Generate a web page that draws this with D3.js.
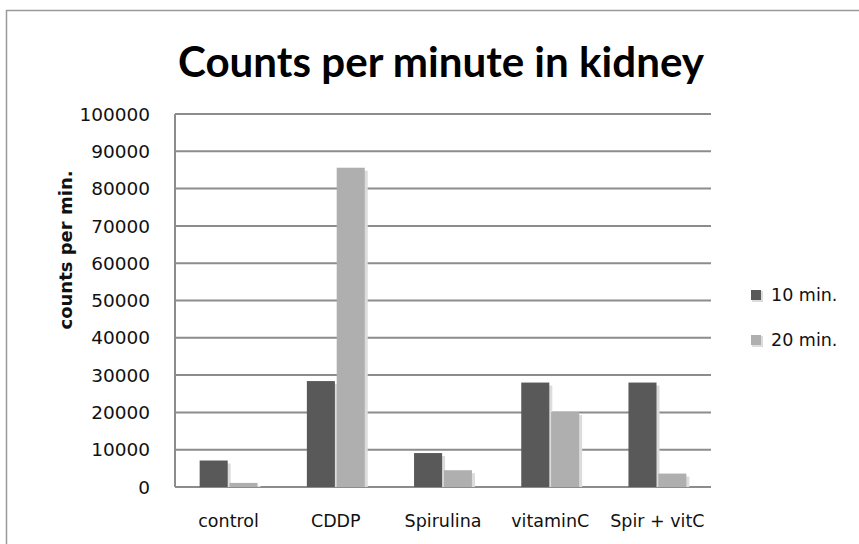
<!DOCTYPE html>
<html><head><meta charset="utf-8">
<script src="https://cdn.jsdelivr.net/npm/d3@7"></script>
<style>html,body{margin:0;padding:0;background:#fff;}svg{display:block;}</style>
</head><body>
<svg id="chart" width="859" height="544"></svg>
<script>
const categories = ["control", "CDDP", "Spirulina", "vitaminC", "Spir + vitC"];
const seriesNames = ["10 min.", "20 min."];
const values10 = [7100, 28400, 9100, 28000, 28000];
const values20 = [1100, 85600, 4500, 20100, 3600];
const yTicks = [0, 10000, 20000, 30000, 40000, 50000, 60000, 70000, 80000, 90000, 100000];
const titleText = "Counts per minute in kidney";
const yTitle = "counts per min.";
const colors = ["#595959", "#afafaf"];

const svg = d3.select("#chart");
const plot = {left: 175, right: 711, top: 114, bottom: 487};

// outer frame
svg.append("rect").attr("x", 6.5).attr("y", 10.5).attr("width", 900).attr("height", 600)
  .attr("fill", "none").attr("stroke", "#9a9a9a").attr("stroke-width", 1.5);

const x = d3.scaleBand().domain(categories).range([plot.left, plot.right]).paddingInner(0.46).paddingOuter(0.23);
const xs = d3.scaleBand().domain(seriesNames).range([0, x.bandwidth()]).paddingInner(0.06);
const y = d3.scaleLinear().domain([0, 100000]).range([plot.bottom, plot.top]);

// gridlines
svg.append("g").selectAll("line").data(yTicks).join("line")
  .attr("x1", plot.left).attr("x2", plot.right)
  .attr("y1", d => y(d)).attr("y2", d => y(d))
  .attr("stroke", "#8c8c8c").attr("stroke-width", 2);
svg.append("line").attr("x1", plot.left).attr("x2", plot.left).attr("y1", plot.top).attr("y2", plot.bottom)
  .attr("stroke", "#8c8c8c").attr("stroke-width", 2);

// y tick labels
svg.append("g").selectAll("text").data(yTicks).join("text")
  .attr("x", 150).attr("y", d => y(d)).attr("dy", "0.36em")
  .attr("text-anchor", "end").attr("font-family", "DejaVu Sans").attr("font-size", 18.5)
  .attr("fill", "#111").text(d => d);

const data = categories.map((c, i) => ({c, vals: [values10[i], values20[i]]}));
const groups = svg.append("g").selectAll("g").data(data).join("g")
  .attr("transform", d => `translate(${x(d.c)},0)`);
const barData = d => d.vals.map((v, j) => ({s: seriesNames[j], v, j}));
// shadows
groups.selectAll("rect.sh").data(barData).join("rect").attr("class", "sh")
  .attr("x", d => xs(d.s) + xs.bandwidth() - 1).attr("width", 4)
  .attr("y", d => y(d.v) + 3).attr("height", d => y(0) - y(d.v) - 3)
  .attr("fill", "#dcdcdc");
groups.selectAll("rect.bar").data(barData).join("rect").attr("class", "bar")
  .attr("x", d => xs(d.s)).attr("width", xs.bandwidth())
  .attr("y", d => y(d.v)).attr("height", d => y(0) - y(d.v))
  .attr("fill", d => colors[d.j]);

// x labels
svg.append("g").selectAll("text").data(categories).join("text")
  .attr("x", d => x(d) + x.bandwidth() / 2).attr("y", 527)
  .attr("text-anchor", "middle").attr("font-family", "DejaVu Sans").attr("font-size", 17.5)
  .attr("fill", "#111").text(d => d);

// title
const t = svg.append("text").attr("x", 441).attr("y", 77).attr("text-anchor", "middle")
  .attr("font-family", "Lato").attr("font-weight", "bold").attr("font-size", 38)
  .attr("fill", "#000").text(titleText);
const tl = t.node().getComputedTextLength();
t.attr("font-size", 38 * 526 / tl);

// y title
svg.append("text").attr("transform", "translate(72,250) rotate(-90)")
  .attr("text-anchor", "middle").attr("font-family", "DejaVu Sans").attr("font-weight", "bold")
  .attr("font-size", 18).attr("fill", "#111").text(yTitle);

// legend
const leg = svg.append("g").selectAll("g").data(seriesNames).join("g")
  .attr("transform", (d, i) => `translate(751,${295 + i * 45})`);
leg.append("rect").attr("x", 1).attr("y", -4).attr("width", 11).attr("height", 11).attr("fill", "#dcdcdc");
leg.append("rect").attr("x", 0).attr("y", -5).attr("width", 10).attr("height", 10).attr("fill", (d, i) => colors[i]);
leg.append("text").attr("x", 20).attr("y", 0).attr("dy", "0.36em")
  .attr("font-family", "DejaVu Sans").attr("font-size", 17.5).attr("fill", "#111").text(d => d);
</script>
</body></html>
